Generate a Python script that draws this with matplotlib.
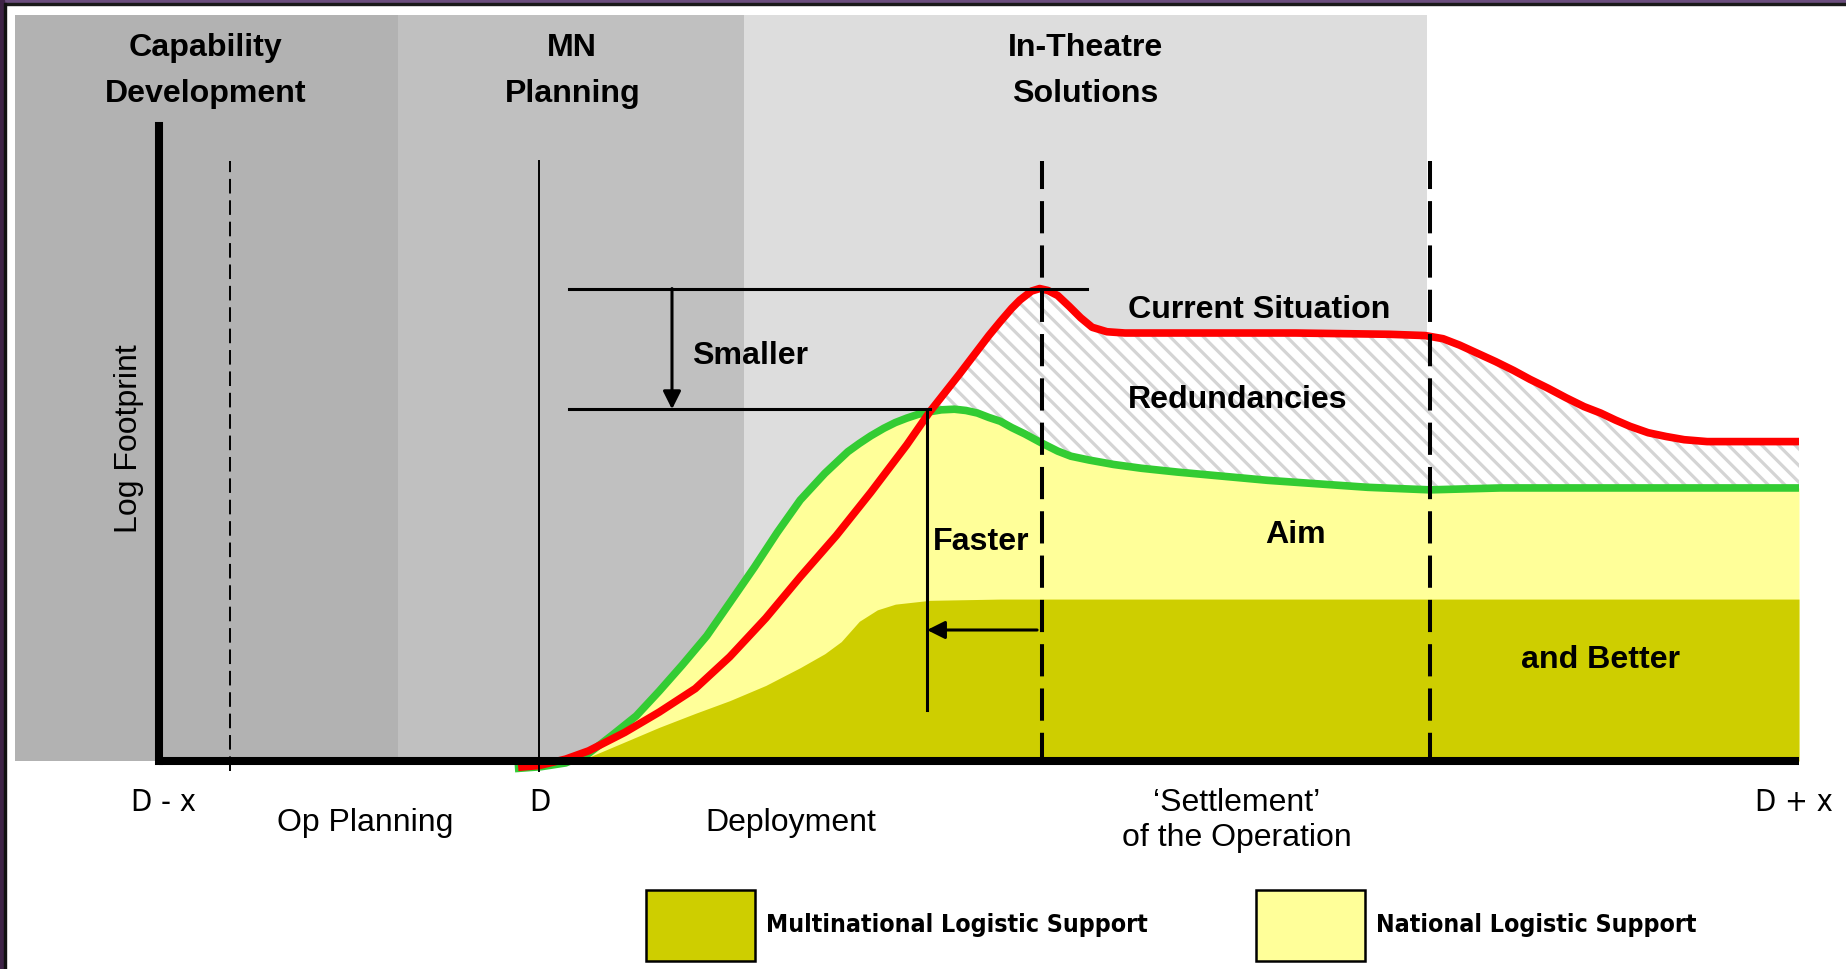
import matplotlib
matplotlib.use("Agg")
import matplotlib.pyplot as plt
from matplotlib import font_manager
from matplotlib.patches import Rectangle, Patch
import numpy as np

# Time runs from D-x (0) to D+x (100); footprint from the time axis (0) to the top of the y axis (100)
red_t = [21.9, 23.2, 24.8, 26.2, 28.4, 30.5, 32.7, 34.8, 37.0, 39.1, 41.3, 43.4, 45.6, 47.0,
         48.8, 50.6, 51.3, 52.0, 52.5, 53.2, 53.7, 54.2, 54.8, 55.5, 56.2, 56.9, 57.8, 58.9,
         62.1, 69.3, 75.0, 77.2, 78.3, 79.3, 80.4, 81.5, 82.6, 83.6, 84.7, 85.8, 86.9, 87.9,
         88.8, 89.7, 90.8, 91.9, 93.0, 94.4, 100.0]
red_f = [-1.0, -0.7, 0.3, 1.6, 4.5, 7.7, 11.4, 16.4, 22.5, 29.0, 35.5, 42.3, 49.8, 55.0,
         60.9, 67.0, 69.2, 71.3, 72.6, 74.0, 74.4, 74.1, 73.3, 71.6, 69.8, 68.3, 67.6, 67.4,
         67.4, 67.4, 67.2, 67.0, 66.5, 65.5, 64.2, 62.9, 61.5, 60.1, 58.7, 57.2, 55.8, 54.8,
         53.7, 52.7, 51.7, 51.1, 50.6, 50.3, 50.3]

green_t = [21.7, 23.3, 24.8, 26.2, 27.6, 29.1, 30.5, 31.9, 33.4, 34.8, 36.3, 37.7, 39.1, 40.6,
           41.3, 42.0, 42.7, 43.4, 44.2, 44.9, 45.6, 46.3, 47.0, 47.7, 48.5, 49.2, 49.9, 50.6,
           51.3, 52.0, 52.8, 53.8, 54.8, 55.6, 56.7, 58.2, 59.9, 62.1, 67.6, 73.7, 77.5, 81.8,
           100.0]
green_f = [-1.2, -0.9, -0.3, 1.2, 4.0, 7.1, 11.0, 15.1, 19.7, 24.9, 30.5, 36.0, 41.1, 45.3,
           47.0, 48.7, 50.0, 51.2, 52.4, 53.3, 54.0, 54.6, 55.0, 55.3, 55.4, 55.2, 54.8, 54.1,
           53.5, 52.5, 51.5, 50.1, 48.8, 48.0, 47.4, 46.7, 46.1, 45.5, 44.2, 43.1, 42.7, 43.0,
           43.0]

multinational_t = [24.8, 26.2, 28.4, 30.5, 32.7, 34.8, 37.0, 39.1, 40.6, 41.6, 42.7, 43.8,
                   44.9, 47.0, 51.3, 100.0]
multinational_f = [0.0, 0.6, 3.0, 5.3, 7.5, 9.5, 11.9, 14.7, 16.9, 18.8, 22.0, 23.8,
                   24.7, 25.3, 25.5, 25.5]

phase_names = [["Capability", "Development"], ["MN", "Planning"], ["In-Theatre", "Solutions"]]
phase_edges = [-8.8, 14.6, 35.7, 77.3]
phase_colors = ["#b2b2b2", "#c0c0c0", "#dddddd"]
phase_label_t = [2.85, 25.2, 56.5]

time_labels = ["D - x", "D", "D + x"]
time_ticks = [0.25, 23.2, 99.7]
period_labels = ["Op Planning", "Deployment"]
period_pos = [12.56, 38.5]

legend_labels = ["Multinational Logistic Support", "National Logistic Support"]
legend_colors = ["#cece00", "#ffff99"]

W, H = 1846, 969
PX_T, PX_F = 16.4, 6.35  # pixels per unit
X0, Y0 = 159, 761        # pixel position of the origin

fig = plt.figure(figsize=(W / 100, H / 100), dpi=100)
ax = fig.add_axes([0, 0, 1, 1])
ax.set_xlim(-X0 / PX_T, (W - X0) / PX_T)
ax.set_ylim(-(H - Y0) / PX_F, Y0 / PX_F)
ax.axis("off")

# fonts
names = {f.name for f in font_manager.fontManager.ttflist}
bold = dict(family="Liberation Sans", weight="bold", size=23.1)
regular = dict(family="Liberation Sans", size=23)
if "Liberation Sans Narrow" in names:
    narrow = dict(family="Liberation Sans Narrow", size=24)
    narrow_bold = dict(family="Liberation Sans Narrow", weight="bold", size=23)
else:
    narrow = dict(family="DejaVu Sans", stretch="condensed", size=22)
    narrow_bold = dict(family="DejaVu Sans", stretch="condensed", weight="bold", size=17.9)

# phase bands
top_f = (Y0 - 15) / PX_F
for (l, r), c, nm, lt in zip(zip(phase_edges[:-1], phase_edges[1:]), phase_colors, phase_names, phase_label_t):
    ax.add_patch(Rectangle((l, 0), r - l, top_f, facecolor=c, edgecolor="none", zorder=0))
    ax.text(lt, 112.25, nm[0], ha="center", va="center", **bold)
    ax.text(lt, 105.05, nm[1], ha="center", va="center", **bold)

# redundancy area (between current situation and aim)
red_t_a, red_f_a = np.array(red_t), np.array(red_f)
green_t_a, green_f_a = np.array(green_t), np.array(green_f)
cross = 47.0
m_r = red_t_a >= cross
m_g = green_t_a >= cross
plt.rcParams["hatch.linewidth"] = 2.3
ax.fill(np.concatenate([red_t_a[m_r], green_t_a[m_g][::-1]]),
        np.concatenate([red_f_a[m_r], green_f_a[m_g][::-1]]),
        facecolor="white", edgecolor="#d4d4d4", hatch="\\\\", linewidth=0, zorder=1)

# national and multinational support
ax.fill_between(green_t, 0, green_f, color="#ffff99", linewidth=0, zorder=2)
ax.fill_between(multinational_t, 0, multinational_f, color="#cece00", linewidth=0, zorder=3)

# curves
ax.plot(green_t, green_f, color="#33cc33", lw=5.5, solid_capstyle="butt", solid_joinstyle="round", zorder=5)
ax.plot(red_t, red_f, color="#ff0000", lw=5.5, solid_capstyle="butt", solid_joinstyle="round", zorder=6)

# reference lines
peak_f = max(red_f)
aim_f = max(green_f)
ax.plot([4.33, 4.33], [-1.6, 94.5], color="black", lw=1.4, dashes=(7.5, 3.5), zorder=7)
ax.plot([23.2, 23.2], [-1.6, 94.5], color="black", lw=1.4, zorder=7)
for t in [53.84, 77.5]:
    ax.plot([t, t], [-0.6, 94.5], color="black", lw=2.9, dashes=(8, 3), zorder=7)
ax.plot([25.0, 56.6], [peak_f, peak_f], color="black", lw=2.2, zorder=7)
ax.plot([25.0, cross], [aim_f, aim_f], color="black", lw=2.2, zorder=7)
ax.plot([46.83, 46.83], [aim_f, 8.0], color="black", lw=2.2, zorder=7)
arrow = dict(arrowstyle="-|>", lw=2.2, color="black", mutation_scale=27, shrinkA=0, shrinkB=0)
ax.annotate("", xy=(31.28, aim_f), xytext=(31.28, peak_f), arrowprops=arrow, zorder=8)
ax.annotate("", xy=(46.83, 20.63), xytext=(53.54, 20.63), arrowprops=arrow, zorder=8)

# axes
ax.plot([0, 0], [0, 100], color="black", lw=5.8, solid_capstyle="projecting", zorder=9)
ax.plot([0, 100], [0, 0], color="black", lw=5.8, solid_capstyle="butt", zorder=9)

# labels
ax.text(32.5, 63.85, "Smaller", ha="left", va="center", zorder=10, **bold)
ax.text(47.2, 34.55, "Faster", ha="left", va="center", zorder=10, **bold)
ax.text(59.1, 71.1, "Current Situation", ha="left", va="center", zorder=10, **bold)
ax.text(59.1, 56.85, "Redundancies", ha="left", va="center", zorder=10, **bold)
ax.text(69.3, 35.65, "Aim", ha="center", va="center", zorder=10, **bold)
ax.text(87.9, 15.85, "and Better", ha="center", va="center", zorder=10, **bold)
ax.text(-1.8, 50.7, "Log Footprint", rotation=90, ha="center", va="center", **regular)

for lab, t in zip(time_labels, time_ticks):
    ax.text(t, -6.5, lab, ha="center", va="center", **narrow)
for lab, t in zip(period_labels, period_pos):
    ax.text(t, -9.77, lab, ha="center", va="center", **regular)
ax.text(65.7, -6.61, "\u2018Settlement\u2019", ha="center", va="center", **regular)
ax.text(65.7, -12.17, "of the Operation", ha="center", va="center", **regular)

# legend
fs_px = narrow_bold["size"] * 100 / 72
handles = [Patch(facecolor=c, edgecolor="black", lw=1.8, label=l) for c, l in zip(legend_colors, legend_labels)]
fig.legend(handles=handles, loc="center left", bbox_to_anchor=(646 / W, (H - 925) / H), ncol=2,
           frameon=False, handlelength=109 / fs_px, handleheight=(71 / fs_px - 0.245) / 0.65,
           handletextpad=11 / fs_px, columnspacing=108 / fs_px, borderpad=0, borderaxespad=0,
           prop=narrow_bold)

# slide frame
fig.patches.append(Rectangle((0, 1 - 3 / H), 1, 3 / H, transform=fig.transFigure, color="#6b4d7d", zorder=20))
fig.patches.append(Rectangle((0, 1 - 5 / H), 1, 2 / H, transform=fig.transFigure, color="#1a1a1a", zorder=20))
fig.patches.append(Rectangle((0, 0), 4 / W, 1, transform=fig.transFigure, color="#3e2346", zorder=20))
fig.patches.append(Rectangle((4 / W, 0), 2 / W, 1 - 3 / H, transform=fig.transFigure, color="#111111", zorder=20))

fig.savefig("out.png", dpi=100)
